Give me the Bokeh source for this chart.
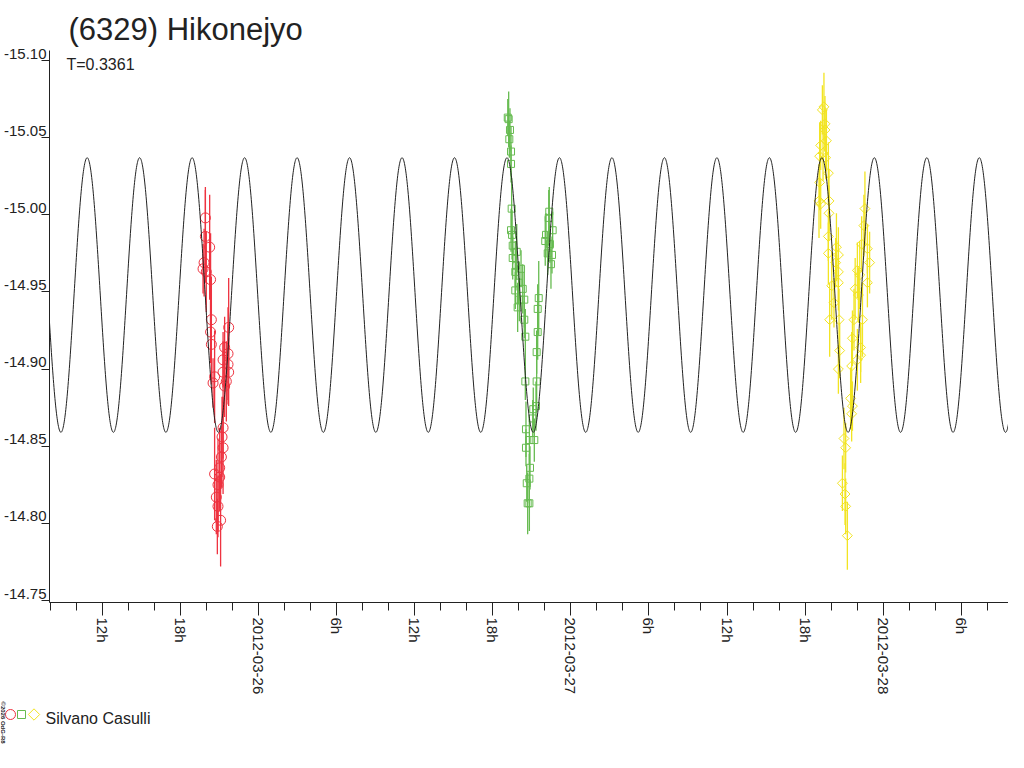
import math
import numpy as np
from bokeh.plotting import figure
from bokeh.layouts import column
from bokeh.models import Range1d, FixedTicker, Label, ColumnDataSource
from bokeh.core.properties import value
from bokeh.embed import file_html
from bokeh.resources import INLINE

# ---------------- data ----------------
TITLE = "(6329) Hikonejyo"
SUBTITLE = "T=0.3361"
OBSERVER = "Silvano Casulli"
CREDIT = "\u00a92026 OdG-R8"

# fitted light-curve model (time in hours since 2012-03-25 00:00 UT)
period_days = 0.3361
fit_mean = -14.948
fit_amp = 0.089
fit_peak_hour = 10.825

x_tick_hours = [12, 18, 24, 30, 36, 42, 48, 54, 60, 66, 72, 78]
x_tick_labels = ["12h", "18h", "2012-03-26", "6h", "12h", "18h",
                 "2012-03-27", "6h", "12h", "18h", "2012-03-28", "6h"]
x_minor_hours = list(range(8, 84, 2))
y_ticks = [-15.10, -15.05, -15.00, -14.95, -14.90, -14.85, -14.80, -14.75]
y_tick_labels = ["-15.10", "-15.05", "-15.00", "-14.95", "-14.90", "-14.85", "-14.80", "-14.75"]

x_start, x_end = 7.930, 81.634
y_top, y_bottom = -15.1065, -14.7487

# session 1 (2012-03-25) red circles
red_t = [19.91, 19.91, 20.24, 19.81, 19.73, 19.98, 20.31, 20.37, 20.31, 20.37,
         21.70, 21.39, 21.65, 21.27, 21.65, 21.27, 21.70, 20.62, 21.52, 20.50,
         21.39, 21.27, 21.19, 21.27, 21.14, 21.01, 20.62, 21.01, 20.88, 20.75,
         20.88, 21.08, 20.83]
red_mag = [-14.998, -14.986, -14.979, -14.969, -14.965, -14.963, -14.958, -14.932, -14.924, -14.916,
           -14.927, -14.914, -14.910, -14.906, -14.903, -14.898, -14.898, -14.895, -14.892, -14.891,
           -14.889, -14.862, -14.856, -14.849, -14.843, -14.836, -14.832, -14.830, -14.825, -14.817,
           -14.811, -14.802, -14.798]
red_err = [0.020, 0.030, 0.034, 0.022, 0.016, 0.026, 0.030, 0.028, 0.020, 0.026,
           0.032, 0.020, 0.030, 0.018, 0.026, 0.020, 0.022, 0.030, 0.026, 0.016,
           0.020, 0.020, 0.026, 0.030, 0.020, 0.026, 0.030, 0.022, 0.030, 0.024,
           0.020, 0.030, 0.018]

# session 2 (2012-03-26) green squares
green_t = [43.15, 43.22, 43.32, 43.27, 43.40, 43.40, 43.45, 43.40, 43.48, 43.53,
           43.84, 43.53, 43.78, 44.17, 43.73, 43.99, 44.30, 43.73, 44.42, 44.04,
           43.91, 44.42, 44.50, 44.50, 45.53, 45.45, 45.45, 45.37, 45.37, 45.32,
           45.11, 45.07, 44.55, 45.19, 44.81, 44.55, 44.86, 44.81, 44.61, 44.81,
           44.68, 46.34, 46.30, 46.60, 46.09, 46.03, 46.39, 46.22, 46.55, 46.47]
green_mag = [-15.063, -15.062, -15.055, -15.049, -15.041, -15.033, -15.004, -14.990, -14.987, -14.980,
             -14.976, -14.972, -14.967, -14.965, -14.963, -14.956, -14.952, -14.951, -14.945, -14.945,
             -14.940, -14.932, -14.921, -14.892, -14.946, -14.939, -14.924, -14.911, -14.892, -14.876,
             -14.874, -14.868, -14.861, -14.854, -14.854, -14.849, -14.836, -14.829, -14.826, -14.813,
             -14.813, -15.002, -14.998, -14.990, -14.987, -14.983, -14.981, -14.975, -14.974, -14.968]
green_err = [0.012, 0.018, 0.014, 0.012, 0.016, 0.012, 0.020, 0.014, 0.016, 0.012,
             0.018, 0.014, 0.016, 0.012, 0.020, 0.014, 0.016, 0.012, 0.018, 0.014,
             0.016, 0.012, 0.018, 0.012, 0.024, 0.016, 0.018, 0.014, 0.020, 0.016,
             0.014, 0.012, 0.018, 0.014, 0.016, 0.012, 0.014, 0.016, 0.012, 0.018,
             0.020, 0.016, 0.018, 0.012, 0.014, 0.016, 0.012, 0.014, 0.012, 0.016]

# session 3 (2012-03-27) yellow diamonds
yellow_t = [67.45, 67.33, 67.53, 67.53, 67.64, 67.20, 67.12, 67.38, 67.58, 67.79,
            67.12, 67.07, 67.20, 67.84, 67.84, 67.79, 67.79, 68.41, 68.56, 68.35,
            68.56, 68.56, 68.05, 68.22, 67.89, 68.61, 68.66, 68.56, 69.50, 69.64,
            69.58, 68.99, 69.12, 68.87, 69.07, 69.12, 69.25, 70.60, 70.52, 70.35,
            70.79, 70.96, 70.02, 70.20, 70.79, 69.85, 70.10, 70.41, 69.76, 69.64,
            70.27, 70.02, 69.58, 70.27]
yellow_mag = [-15.070, -15.068, -15.059, -15.055, -15.048, -15.045, -15.038, -15.040, -15.037, -15.027,
              -15.021, -15.009, -15.007, -15.009, -15.001, -14.986, -14.975, -14.979, -14.974, -14.969,
              -14.963, -14.956, -14.954, -14.943, -14.932, -14.932, -14.912, -14.900, -14.881, -14.876,
              -14.871, -14.855, -14.849, -14.826, -14.819, -14.811, -14.792, -15.004, -14.993, -14.981,
              -14.978, -14.969, -14.964, -14.961, -14.956, -14.952, -14.948, -14.932, -14.932, -14.920,
              -14.914, -14.906, -14.902, -14.909]
yellow_err = [0.022, 0.016, 0.018, 0.014, 0.020, 0.016, 0.022, 0.018, 0.014, 0.020,
              0.018, 0.024, 0.016, 0.020, 0.018, 0.016, 0.020, 0.022, 0.018, 0.016,
              0.020, 0.018, 0.022, 0.016, 0.024, 0.020, 0.018, 0.016, 0.020, 0.016,
              0.018, 0.020, 0.016, 0.018, 0.020, 0.018, 0.022, 0.024, 0.020, 0.018,
              0.016, 0.020, 0.018, 0.022, 0.016, 0.020, 0.018, 0.024, 0.020, 0.018,
              0.016, 0.020, 0.022, 0.018]

RED, GREEN, YELLOW = "#ee3340", "#66bb50", "#f2e422"
FONT = "Liberation Sans"
INK = "#222222"

# ---------------- main chart ----------------
p = figure(width=1008, height=700, title=TITLE,
           x_range=Range1d(x_start, x_end), y_range=Range1d(y_bottom, y_top),
           output_backend="svg", toolbar_location=None,
           min_border_left=48, min_border_right=0, min_border_top=50, min_border_bottom=98)
p.frame_align = False
p.outline_line_color = None
p.xgrid.visible = False
p.ygrid.visible = False
p.background_fill_color = "white"
p.border_fill_color = "white"

p.title.text_font = FONT
p.title.text_font_size = "31px"
p.title.text_font_style = "normal"
p.title.text_color = INK
p.title.align = "left"
p.title.offset = 19
p.title.standoff = 7

xa = p.xaxis[0]
xa.ticker = FixedTicker(ticks=x_tick_hours, minor_ticks=x_minor_hours)
xa.major_label_overrides = dict(zip(x_tick_hours, x_tick_labels))
xa.major_label_orientation = -math.pi / 2
xa.major_tick_out = 13
xa.major_tick_in = 0
xa.minor_tick_out = 8
xa.minor_tick_in = 0
xa.major_label_standoff = 2
xa.major_label_text_font = FONT
xa.major_label_text_font_size = "15px"
xa.major_label_text_color = INK
xa.axis_line_color = INK
xa.major_tick_line_color = INK
xa.minor_tick_line_color = INK

# y axis: tick marks at the magnitudes, labels sitting just above each tick
label_lift = 0.0045
y_label_pos = [round(v - label_lift, 4) for v in y_ticks]
ya = p.yaxis[0]
ya.ticker = FixedTicker(ticks=y_label_pos, minor_ticks=y_ticks)
ya.major_label_overrides = dict(zip(y_label_pos, y_tick_labels))
ya.major_tick_out = 0
ya.major_tick_in = 0
ya.minor_tick_out = 8
ya.minor_tick_in = 0
ya.major_label_standoff = -5
ya.major_label_text_font = FONT
ya.major_label_text_font_size = "15px"
ya.major_label_text_color = INK
ya.axis_line_color = INK
ya.minor_tick_line_color = INK

# observations with error bars
for t, m, e, col, marker, size, ang in [
    (red_t, red_mag, red_err, RED, "circle", 10, 0.0),
    (green_t, green_mag, green_err, GREEN, "square", 7, 0.0),
    (yellow_t, yellow_mag, yellow_err, YELLOW, "square", 7, math.pi / 4),
]:
    src = ColumnDataSource(dict(t=t, mag=m,
                                lo=[a - b for a, b in zip(m, e)],
                                hi=[a + b for a, b in zip(m, e)]))
    p.segment(x0="t", y0="lo", x1="t", y1="hi", source=src, line_color=col, line_width=1.3)
    p.scatter("t", "mag", source=src, marker=marker, size=size, angle=ang,
              fill_color=None, line_color=col, line_width=1)

# fitted curve
curve_t = np.linspace(x_start, x_end, 3000)
half_period_h = period_days * 24 / 2
curve_mag = fit_mean - fit_amp * np.cos(2 * np.pi * (curve_t - fit_peak_hour) / half_period_h)
p.line(curve_t, curve_mag, line_color=INK, line_width=1)

p.add_layout(Label(x=17, y=538, x_units="screen", y_units="screen", text=SUBTITLE,
                   text_font=FONT, text_font_size="16px", text_color=INK,
                   text_baseline="alphabetic"))

# ---------------- legend strip ----------------
leg = figure(width=1008, height=52, x_range=Range1d(0, 1008), y_range=Range1d(0, 52),
             output_backend="svg", toolbar_location=None, min_border=0,
             x_axis_type=None, y_axis_type=None)
leg.frame_align = False
leg.outline_line_color = None
leg.xgrid.visible = False
leg.ygrid.visible = False

leg_src = ColumnDataSource(dict(x=[10, 21, 33.5], y=[38, 38, 38],
                                marker=["circle", "square", "square"],
                                size=[10, 8, 8], angle=[0, 0, math.pi / 4],
                                color=[RED, GREEN, YELLOW]))
leg.scatter("x", "y", source=leg_src, marker="marker", size="size", angle="angle",
            fill_color=None, line_color="color", line_width=1)
leg.text(x=[45], y=[34], text=[OBSERVER], text_font=value(FONT), text_font_size="16px",
         text_color=INK, text_baseline="alphabetic", text_align="left")
leg.text(x=[2], y=[51], text=[CREDIT], angle=-math.pi / 2, text_font=value(FONT),
         text_font_size="6px", text_font_style="bold", text_color=INK,
         text_baseline="middle", text_align="left")

open("out.html", "w").write(file_html(column(p, leg, spacing=0), INLINE))
